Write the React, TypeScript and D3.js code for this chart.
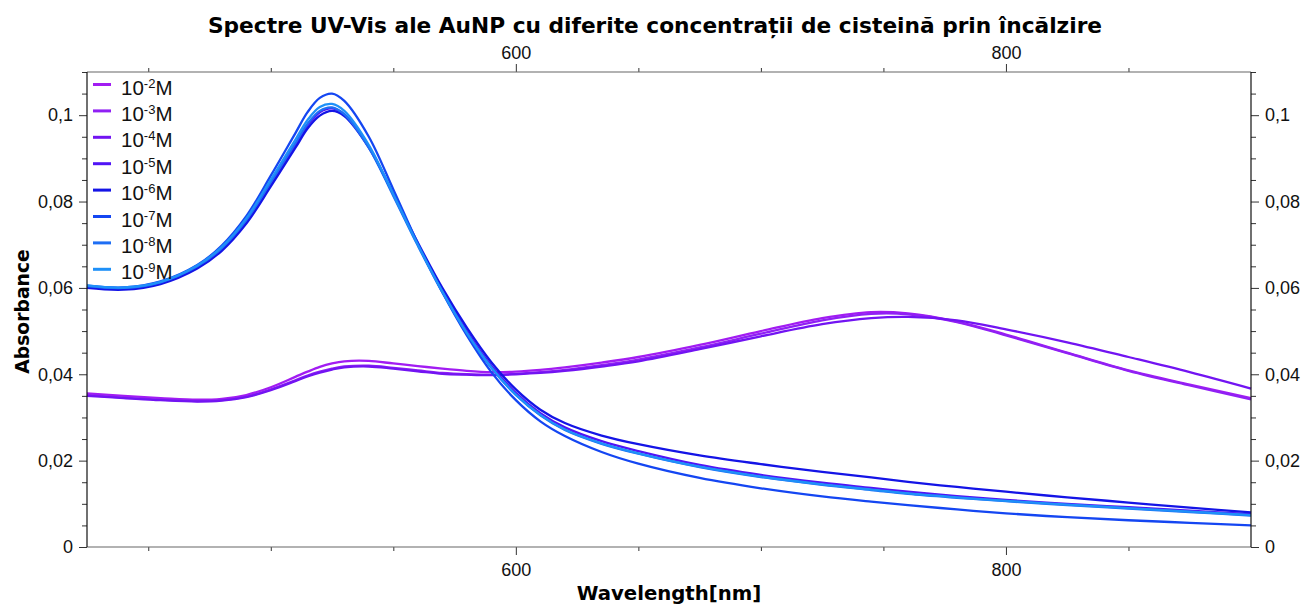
import { useEffect, useRef } from "react";
import * as d3 from "d3";

const WIDTH = 1304;
const HEIGHT = 605;

// wavelength grid (nm) shared by every spectrum
const wavelengths = [
  425, 440, 455, 470, 480, 490, 500, 510, 515, 520, 525, 530, 540, 550, 560, 570, 580,
  590, 600, 610, 620, 635, 650, 675, 700, 725, 745, 760, 780, 800, 825, 850, 875, 900,
];

const abs1e2 = [
  0.0356, 0.035, 0.0345, 0.0341, 0.0343, 0.0352, 0.037, 0.0394, 0.0406, 0.0417, 0.0425,
  0.043, 0.0431, 0.0425, 0.0419, 0.0413, 0.0408, 0.0405, 0.0406, 0.041, 0.0416, 0.0427,
  0.044, 0.0468, 0.05, 0.053, 0.0544, 0.0541, 0.0522, 0.0492, 0.045, 0.0409, 0.0376, 0.0345,
];
const abs1e3 = [
  0.0352, 0.0346, 0.0341, 0.0338, 0.034, 0.0348, 0.0365, 0.0386, 0.0397, 0.0406, 0.0413,
  0.0418, 0.042, 0.0415, 0.0409, 0.0403, 0.04, 0.0399, 0.0401, 0.0405, 0.041, 0.0421,
  0.0434, 0.0462, 0.0494, 0.0525, 0.054, 0.0539, 0.0521, 0.049, 0.0449, 0.0408, 0.0374, 0.0342,
];
const abs1e4 = [
  0.035, 0.0345, 0.034, 0.0337, 0.0339, 0.0347, 0.0363, 0.0384, 0.0395, 0.0404, 0.0411,
  0.0416, 0.0418, 0.0413, 0.0407, 0.0401, 0.0399, 0.0398, 0.04, 0.0403, 0.0408, 0.0418,
  0.043, 0.0458, 0.0488, 0.0516, 0.053, 0.0533, 0.0525, 0.0504, 0.0474, 0.044, 0.0405, 0.0367,
];
const abs1e5 = [
  0.0602, 0.0598, 0.0611, 0.0648, 0.069, 0.0754, 0.0841, 0.0931, 0.0976, 0.1007, 0.1016,
  0.1002, 0.0927, 0.0816, 0.0701, 0.0594, 0.05, 0.042, 0.0357, 0.031, 0.0277, 0.0245,
  0.0222, 0.019, 0.0167, 0.0149, 0.0137, 0.0128, 0.0118, 0.0109, 0.01, 0.0092, 0.0084, 0.0076,
];
const abs1e6 = [
  0.06, 0.0596, 0.0609, 0.0645, 0.0686, 0.0749, 0.0835, 0.0924, 0.0969, 0.0999, 0.101,
  0.0998, 0.0925, 0.0817, 0.0705, 0.06, 0.0508, 0.0428, 0.0365, 0.0318, 0.0287, 0.0258,
  0.0238, 0.0212, 0.0192, 0.0174, 0.0161, 0.0151, 0.0139, 0.0128, 0.0115, 0.0103, 0.0091, 0.008,
];
const abs1e7 = [
  0.0605, 0.0601, 0.0615, 0.0653, 0.0698, 0.0766, 0.086, 0.0958, 0.1007, 0.104, 0.105,
  0.1033, 0.095, 0.0828, 0.0703, 0.059, 0.049, 0.0405, 0.034, 0.0291, 0.0257, 0.022,
  0.0193, 0.016, 0.0136, 0.0117, 0.0105, 0.0097, 0.0087, 0.0078, 0.0069, 0.0062, 0.0056, 0.005,
];
const abs1e8 = [
  0.0604, 0.06, 0.0613, 0.065, 0.0692, 0.0757, 0.0845, 0.0935, 0.098, 0.101, 0.1018,
  0.1002, 0.0925, 0.0813, 0.0698, 0.059, 0.0495, 0.0415, 0.0352, 0.0305, 0.0271, 0.0239,
  0.0216, 0.0185, 0.0162, 0.0144, 0.0132, 0.0123, 0.0114, 0.0106, 0.0097, 0.0089, 0.0081, 0.0073,
];
const abs1e9 = [
  0.0606, 0.0601, 0.0614, 0.0652, 0.0695, 0.0761, 0.0851, 0.0943, 0.0989, 0.1019, 0.1026,
  0.101, 0.0931, 0.0817, 0.07, 0.0592, 0.0496, 0.0416, 0.0353, 0.0306, 0.0272, 0.024,
  0.0217, 0.0186, 0.0163, 0.0145, 0.0133, 0.0124, 0.0115, 0.0107, 0.0098, 0.009, 0.0082, 0.0074,
];

const exponents = ["-2", "-3", "-4", "-5", "-6", "-7", "-8", "-9"];
const seriesValues = [abs1e2, abs1e3, abs1e4, abs1e5, abs1e6, abs1e7, abs1e8, abs1e9];
const seriesColors = [
  "#A21CF2", "#9020F4", "#7214F2", "#5014F6", "#1414E6", "#1446F2", "#1E6EF4", "#1E90F8",
];

const xMajorTicks = [600, 800];
const xMinorTicks = [450, 500, 550, 650, 700, 750, 850];
const yMajorTicks = [0, 0.02, 0.04, 0.06, 0.08, 0.1];

const title = "Spectre UV-Vis ale AuNP cu diferite concentrații de cisteină prin încălzire";
const FONT = "'Liberation Sans', Arial, sans-serif";
const TITLE_FONT = "'DejaVu Sans', Verdana, sans-serif";

export default function App() {
  const svgRef = useRef<SVGSVGElement | null>(null);

  useEffect(() => {
    if (!svgRef.current) return;
    const margin = { top: 72, right: 53, bottom: 58, left: 87 };
    const innerWidth = WIDTH - margin.left - margin.right;
    const innerHeight = HEIGHT - margin.top - margin.bottom;

    const x = d3
      .scaleLinear()
      .domain([425, 900])
      .range([margin.left, margin.left + innerWidth]);
    const y = d3
      .scaleLinear()
      .domain([0, 0.11])
      .range([margin.top + innerHeight, margin.top]);

    const svg = d3.select(svgRef.current);
    svg.selectAll("*").remove();
    svg.attr("width", WIDTH).attr("height", HEIGHT).style("background", "#fff");

    const fmt = (v: d3.NumberValue) => String(+v).replace(".", ",");
    const yMinor = d3
      .range(0, 0.1101, 0.005)
      .filter((v) => !yMajorTicks.some((t) => Math.abs(t - v) < 1e-9));

    const styleAxis = (g: d3.Selection<SVGGElement, unknown, null, undefined>) => {
      g.select(".domain").remove();
      g.selectAll("line").attr("stroke", "#333");
      g.selectAll("text")
        .attr("fill", "#111")
        .attr("font-size", 18)
        .attr("font-family", FONT);
    };

    const bottom = margin.top + innerHeight;
    const right = margin.left + innerWidth;

    // x axes (bottom + top)
    svg.append("g").attr("transform", `translate(0,${bottom})`)
      .call(d3.axisBottom(x).tickValues(xMinorTicks).tickSize(4).tickFormat(() => ""))
      .call(styleAxis);
    svg.append("g").attr("transform", `translate(0,${bottom})`)
      .call(d3.axisBottom(x).tickValues(xMajorTicks).tickSize(8).tickPadding(8).tickFormat((d) => String(d)))
      .call(styleAxis);
    svg.append("g").attr("transform", `translate(0,${margin.top})`)
      .call(d3.axisTop(x).tickValues(xMinorTicks).tickSize(4).tickFormat(() => ""))
      .call(styleAxis);
    svg.append("g").attr("transform", `translate(0,${margin.top})`)
      .call(d3.axisTop(x).tickValues(xMajorTicks).tickSize(8).tickPadding(5).tickFormat((d) => String(d)))
      .call(styleAxis);

    // y axes (left + right)
    svg.append("g").attr("transform", `translate(${margin.left},0)`)
      .call(d3.axisLeft(y).tickValues(yMinor).tickSize(5).tickFormat(() => ""))
      .call(styleAxis);
    svg.append("g").attr("transform", `translate(${margin.left},0)`)
      .call(d3.axisLeft(y).tickValues(yMajorTicks).tickSize(8).tickPadding(6).tickFormat(fmt))
      .call(styleAxis);
    svg.append("g").attr("transform", `translate(${right},0)`)
      .call(d3.axisRight(y).tickValues(yMinor).tickSize(5).tickFormat(() => ""))
      .call(styleAxis);
    svg.append("g").attr("transform", `translate(${right},0)`)
      .call(d3.axisRight(y).tickValues(yMajorTicks).tickSize(8).tickPadding(6).tickFormat(fmt))
      .call(styleAxis);

    // spectra
    const line = d3
      .line<number>()
      .x((_, i) => x(wavelengths[i]))
      .y((v) => y(v))
      .curve(d3.curveCatmullRom.alpha(0.5));

    svg
      .append("g")
      .selectAll("path.spectrum")
      .data(seriesValues)
      .join("path")
      .attr("class", "spectrum")
      .attr("d", (values) => line(values))
      .attr("fill", "none")
      .attr("stroke", (_, i) => seriesColors[i])
      .attr("stroke-width", 2.3)
      .attr("stroke-linejoin", "round");

    // frame
    const frame = svg.append("g").attr("stroke-width", 1.2);
    frame.append("line").attr("x1", margin.left).attr("x2", right).attr("y1", margin.top).attr("y2", margin.top).attr("stroke", "#666");
    frame.append("line").attr("x1", margin.left).attr("x2", right).attr("y1", bottom).attr("y2", bottom).attr("stroke", "#666");
    frame.append("line").attr("x1", margin.left).attr("x2", margin.left).attr("y1", margin.top).attr("y2", bottom).attr("stroke", "#111");
    frame.append("line").attr("x1", right).attr("x2", right).attr("y1", margin.top).attr("y2", bottom).attr("stroke", "#111");

    // legend
    const legend = svg.append("g");
    const rowY = (i: number) => 84.5 + i * 26.4;
    legend
      .selectAll("line")
      .data(exponents)
      .join("line")
      .attr("x1", 93)
      .attr("x2", 111)
      .attr("y1", (_, i) => rowY(i))
      .attr("y2", (_, i) => rowY(i))
      .attr("stroke", (_, i) => seriesColors[i])
      .attr("stroke-width", 3);
    const labels = legend
      .selectAll("text")
      .data(exponents)
      .join("text")
      .attr("x", 121)
      .attr("y", (_, i) => rowY(i) + 10)
      .attr("font-family", FONT)
      .attr("font-size", 20.5)
      .attr("fill", "#111");
    labels.append("tspan").text("10");
    labels.append("tspan").attr("font-size", 13).attr("dy", -7).text((d) => d);
    labels.append("tspan").attr("dy", 7).text("M");

    // titles
    svg.append("text")
      .attr("x", 655)
      .attr("y", 33)
      .attr("text-anchor", "middle")
      .attr("font-family", TITLE_FONT)
      .attr("font-weight", "bold")
      .attr("font-size", 21.7)
      .attr("fill", "#000")
      .text(title);
    svg.append("text")
      .attr("x", margin.left + innerWidth / 2)
      .attr("y", 600)
      .attr("text-anchor", "middle")
      .attr("font-family", TITLE_FONT)
      .attr("font-weight", "bold")
      .attr("font-size", 19.7)
      .attr("fill", "#000")
      .text("Wavelength[nm]");
    svg.append("text")
      .attr("transform", `translate(29,${margin.top + innerHeight / 2 + 2}) rotate(-90)`)
      .attr("text-anchor", "middle")
      .attr("font-family", TITLE_FONT)
      .attr("font-weight", "bold")
      .attr("font-size", 18.8)
      .attr("fill", "#000")
      .text("Absorbance");
  }, []);

  return (
    <svg
      ref={svgRef}
      width={WIDTH}
      height={HEIGHT}
      style={{ position: "absolute", left: 0, top: 0, display: "block" }}
    />
  );
}
